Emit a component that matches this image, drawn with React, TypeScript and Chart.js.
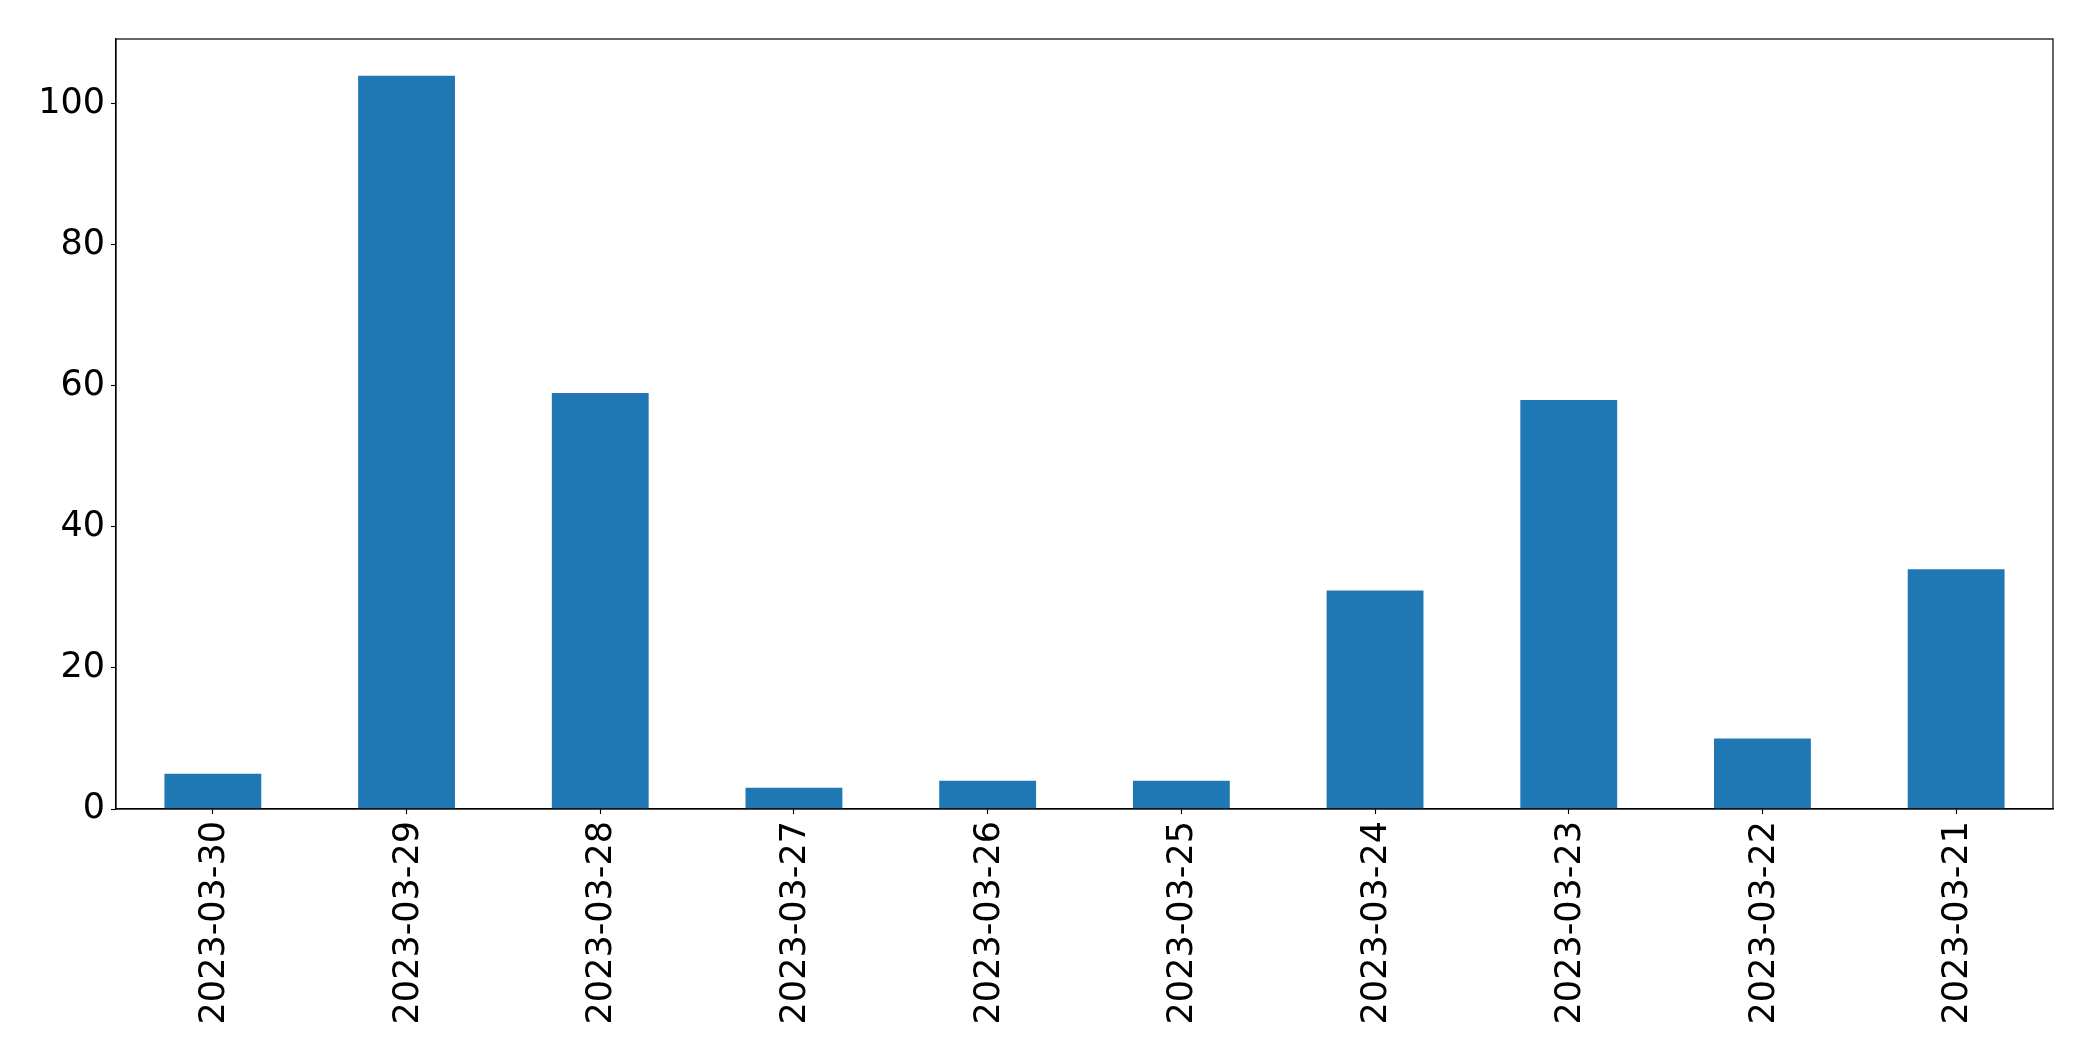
import React, { useEffect, useRef } from "react";
import { Chart, registerables } from "chart.js";

Chart.register(...registerables);

const categories = [
  "2023-03-30",
  "2023-03-29",
  "2023-03-28",
  "2023-03-27",
  "2023-03-26",
  "2023-03-25",
  "2023-03-24",
  "2023-03-23",
  "2023-03-22",
  "2023-03-21",
];
const values = [5, 104, 59, 3, 4, 4, 31, 58, 10, 34];
const yTicks = [0, 20, 40, 60, 80, 100];

const W = 2093;
const H = 1061;
const PLOT_LEFT = 116;
const PLOT_TOP = 39;
const PLOT_RIGHT = 2053;
const PLOT_BOTTOM = 809;

const frame = {
  id: "frame",
  afterDraw(chart: any) {
    const { ctx, chartArea } = chart;
    ctx.save();
    ctx.strokeStyle = "#000";
    ctx.lineWidth = 1.2;
    ctx.strokeRect(
      chartArea.left,
      chartArea.top,
      chartArea.right - chartArea.left,
      chartArea.bottom - chartArea.top
    );
    ctx.restore();
  },
};

export default function App() {
  const ref = useRef<HTMLCanvasElement | null>(null);
  useEffect(() => {
    if (!ref.current) return;
    const font = { family: "'DejaVu Sans', sans-serif", size: 35 };
    const chart = new Chart(ref.current, {
      type: "bar",
      data: {
        labels: categories,
        datasets: [
          {
            data: values,
            backgroundColor: "#1f77b4",
            barPercentage: 0.5,
            categoryPercentage: 1,
          },
        ],
      },
      options: {
        animation: false,
        responsive: false,
        maintainAspectRatio: false,
        devicePixelRatio: 1,
        layout: {
          padding: { left: 0, top: PLOT_TOP, right: W - PLOT_RIGHT, bottom: 0 },
        },
        plugins: { legend: { display: false }, tooltip: { enabled: false } },
        scales: {
          x: {
            type: "category",
            offset: true,
            grid: {
              display: true,
              drawOnChartArea: false,
              tickLength: 5,
              tickColor: "#000",
              tickWidth: 1.1,
              offset: false,
            },
            border: { display: true, color: "#000", width: 1.2 },
            ticks: {
              color: "#000",
              font,
              maxRotation: 90,
              minRotation: 90,
              autoSkip: false,
              padding: 7,
              labelOffset: 2,
            },
            afterFit(scale: any) {
              scale.height = H - PLOT_BOTTOM;
            },
          },
          y: {
            min: 0,
            max: 109.2,
            grid: {
              display: true,
              drawOnChartArea: false,
              tickLength: 5,
              tickColor: "#000",
              tickWidth: 1.1,
            },
            border: { display: true, color: "#000", width: 1.2 },
            afterBuildTicks(scale: any) {
              scale.ticks = yTicks.map((v) => ({ value: v }));
            },
            ticks: {
              color: "#000",
              font,
              padding: 6,
            },
            afterFit(scale: any) {
              scale.width = PLOT_LEFT;
            },
          },
        },
      },
      plugins: [frame],
    });
    return () => chart.destroy();
  }, []);
  return (
    <div style={{ position: "fixed", left: 0, top: 0, width: W, height: H, background: "#fff" }}>
      <canvas ref={ref} width={W} height={H} style={{ width: W, height: H, display: "block" }} />
    </div>
  );
}
